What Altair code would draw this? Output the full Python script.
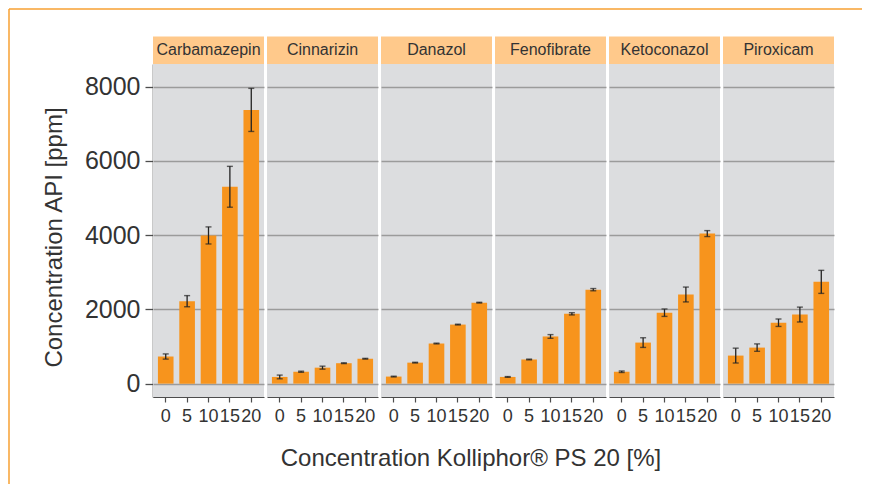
import altair as alt
import pandas as pd

drugs = ["Carbamazepin", "Cinnarizin", "Danazol", "Fenofibrate", "Ketoconazol", "Piroxicam"]
concs = [0, 5, 10, 15, 20]

means = {
    "Carbamazepin": [730, 2220, 3990, 5300, 7370],
    "Cinnarizin":   [180, 320, 430, 550, 670],
    "Danazol":      [190, 565, 1080, 1590, 2180],
    "Fenofibrate":  [180, 650, 1270, 1880, 2530],
    "Ketoconazol":  [320, 1105, 1910, 2400, 4040],
    "Piroxicam":    [755, 970, 1640, 1860, 2740],
}
errors = {
    "Carbamazepin": [70, 150, 230, 550, 580],
    "Cinnarizin":   [50, 15, 40, 10, 10],
    "Danazol":      [10, 10, 10, 10, 10],
    "Fenofibrate":  [10, 10, 50, 30, 30],
    "Ketoconazol":  [20, 130, 100, 200, 80],
    "Piroxicam":    [200, 100, 100, 200, 310],
}

rows = []
for d in drugs:
    for c, m, e in zip(concs, means[d], errors[d]):
        rows.append({"drug": d, "conc": c, "mean": m, "err": e})
df = pd.DataFrame(rows)

FONT = "Liberation Sans"
TXT = "#333333"
AX = "#4D4D4D"
BAR = "#F7941D"
STRIP = "#FFC98B"
PANEL = "#DCDDDF"
FRAME = "#F7A032"
W, H = 111, 333

yscale = alt.Scale(domain=[-360, 8606], nice=False, zero=False)
yaxis = alt.Axis(
    values=[0, 2000, 4000, 6000, 8000], format="d", grid=True,
    gridColor="#9B9B9B", gridWidth=1.3,
    domainColor=AX, domainWidth=1.6, tickColor=AX, tickWidth=1.3, tickSize=8,
    labelFontSize=25, labelPadding=5, labelColor=TXT, labelFont=FONT,
    title="Concentration API [ppm]", titleFontSize=24, titleFont=FONT,
    titleFontWeight="normal", titleColor=TXT, titleX=-99, titleY=173,
    titleBaseline="middle", titleAlign="center", titleAngle=-90,
)
xscale = alt.Scale(paddingInner=0.27, paddingOuter=0.23)
xaxis = alt.Axis(
    labelAngle=0, labelFontSize=18, labelPadding=5, labelColor=TXT, labelFont=FONT,
    tickSize=5, tickColor=AX, tickWidth=1.2, domainColor=AX, domainWidth=1.2,
    grid=False, title=None,
)

X = alt.X("conc:O", sort=concs, scale=xscale, axis=xaxis, title=None)

def Y(field):
    return alt.Y(field, scale=yscale, axis=yaxis, title="Concentration API [ppm]")

base = alt.Chart()

strip = base.mark_rect(fill=STRIP).encode(
    x=alt.value(0), x2=alt.value(W), y=alt.value(-27.5), y2=alt.value(0)
).transform_filter("datum.conc == 0")

strip_text = base.mark_text(
    font=FONT, fontSize=16, color=TXT, align="center", baseline="middle"
).encode(
    x=alt.value(W / 2), y=alt.value(-14.5), text="drug:N"
).transform_filter("datum.conc == 0")

bars = base.mark_bar(color=BAR, opacity=1).encode(x=X, y=Y("mean:Q"))

calc = dict(lo="datum.mean - datum.err", hi="datum.mean + datum.err")

err_rule = base.mark_rule(color="#222222", strokeWidth=1.3).encode(
    x=X, y=Y("lo:Q"), y2="hi:Q"
).transform_calculate(**calc)

cap_lo = base.mark_tick(color="#222222", thickness=1.4, size=6).encode(
    x=X, y=Y("lo:Q")
).transform_calculate(**calc)
cap_hi = base.mark_tick(color="#222222", thickness=1.4, size=6).encode(
    x=X, y=Y("hi:Q")
).transform_calculate(**calc)

first = "datum.drug == 'Carbamazepin' && datum.conc == 0"
frame_v = base.mark_rule(color=FRAME, strokeWidth=1.5).encode(
    x=alt.value(-144), y=alt.value(-55), y2=alt.value(420)
).transform_filter(first)
frame_h = base.mark_rule(color=FRAME, strokeWidth=1.5).encode(
    x=alt.value(-144), x2=alt.value(709), y=alt.value(-55)
).transform_filter(first)

xtitle = base.mark_text(
    font=FONT, fontSize=24, color=TXT, align="center", baseline="alphabetic"
).encode(
    x=alt.value(318), y=alt.value(402),
    text=alt.value("Concentration Kolliphor® PS 20 [%]"),
).transform_filter(first)

chart = alt.layer(
    strip, strip_text, bars, err_rule, cap_lo, cap_hi, frame_v, frame_h, xtitle, data=df
).properties(width=W, height=H).facet(
    column=alt.Column("drug:N", sort=drugs, header=None),
    spacing=3,
    bounds="flush",
).configure(
    padding=0, background="white", font=FONT
).configure_view(
    fill=PANEL, stroke=None
)

chart.save("out.html", embed_options={"renderer": "svg", "actions": False})
